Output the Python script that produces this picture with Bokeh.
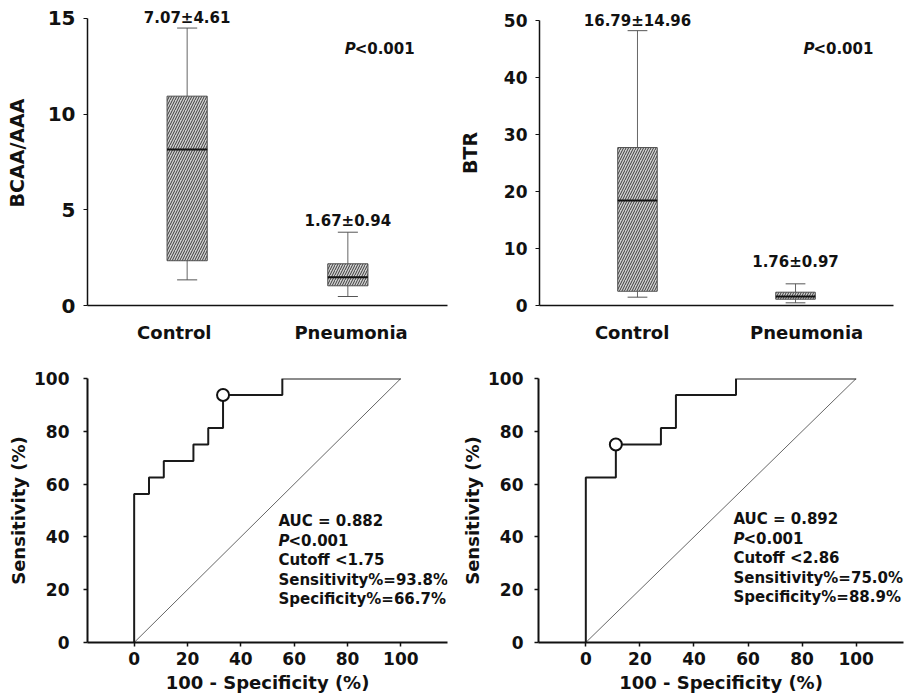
from bokeh.plotting import figure
from bokeh.models import Range1d, FixedTicker, Label, ColumnDataSource
from bokeh.layouts import column, row
from bokeh.embed import file_html
from bokeh.resources import INLINE

# ---------------- data ----------------
groups = ["Control", "Pneumonia"]

bcaa_lo = [1.34, 0.47]
bcaa_q1 = [2.34, 1.03]
bcaa_med = [8.15, 1.48]
bcaa_q3 = [10.94, 2.18]
bcaa_hi = [14.5, 3.83]
bcaa_mean_sd = ["7.07\u00b14.61", "1.67\u00b10.94"]

btr_lo = [1.46, 0.47]
btr_q1 = [2.5, 1.1]
btr_med = [18.4, 1.6]
btr_q3 = [27.7, 2.33]
btr_hi = [48.2, 3.8]
btr_mean_sd = ["16.79\u00b114.96", "1.76\u00b10.97"]

roc1_fpr = [0, 0, 5.56, 5.56, 11.11, 11.11, 22.22, 22.22, 27.78, 27.78, 33.33, 33.33, 55.56, 55.56, 100]
roc1_tpr = [0, 56.25, 56.25, 62.5, 62.5, 68.75, 68.75, 75, 75, 81.25, 81.25, 93.75, 93.75, 100, 100]
roc1_cut = (33.33, 93.75)
roc1_text = ["AUC = 0.882", "P", "Cutoff <1.75", "Sensitivity%=93.8%", "Specificity%=66.7%"]

roc2_fpr = [0, 0, 11.11, 11.11, 27.78, 27.78, 33.33, 33.33, 55.56, 55.56, 100]
roc2_tpr = [0, 62.5, 62.5, 75, 75, 81.25, 81.25, 93.75, 93.75, 100, 100]
roc2_cut = (11.11, 75.0)
roc2_text = ["AUC = 0.892", "P", "Cutoff <2.86", "Sensitivity%=75.0%", "Specificity%=88.9%"]

p_text = "<0.001"
roc_ticks = [0, 20, 40, 60, 80, 100]

FONT = "DejaVu Sans"
INK = "#111111"


def base_fig(width, height, bl, br, bt, bb, xr, yr):
    p = figure(width=width, height=height, x_range=Range1d(*xr), y_range=Range1d(*yr),
               output_backend="svg", toolbar_location=None, tools="",
               min_border_left=bl, min_border_right=br, min_border_top=bt, min_border_bottom=bb)
    p.outline_line_color = None
    p.xgrid.grid_line_color = None
    p.ygrid.grid_line_color = None
    for ax in (p.xaxis[0], p.yaxis[0]):
        ax.axis_line_color = INK
        ax.major_label_text_font = FONT
        ax.major_label_text_font_style = "bold"
        ax.major_label_text_color = INK
        ax.axis_label_text_font = FONT
        ax.axis_label_text_font_style = "bold"
        ax.axis_label_text_color = INK
        ax.minor_tick_line_color = None
        ax.major_tick_line_color = INK
        ax.major_tick_in = 0
    return p


def add_p_label(p, x, y, size):
    p.add_layout(Label(x=x, y=y, text="P", text_font=FONT, text_font_style="bold italic",
                       text_font_size=size, text_color=INK, text_baseline="middle"))
    p.add_layout(Label(x=x, y=y, x_offset=10, text=p_text, text_font=FONT, text_font_style="bold",
                       text_font_size=size, text_color=INK, text_baseline="middle"))


def box_panel(width, bl, br, bb, ymax, ytop, yticks, ylabel, tick_size,
              lo, q1, med, q3, hi, mean_sd, label_pos, msd_y, p_xy, label_standoff):
    p = base_fig(width, 355, bl, br, 0, bb, (0.38, 2.62), (0, ytop))
    xs = [i + 1 for i in range(len(groups))]
    src = ColumnDataSource(dict(x=xs, lo=lo, q1=q1, med=med, q3=q3, hi=hi,
                                cl=[x - 0.0625 for x in xs], cr=[x + 0.0625 for x in xs],
                                ml=[x - 0.125 for x in xs], mr=[x + 0.125 for x in xs]))
    # whiskers
    p.segment(x0="x", y0="q3", x1="x", y1="hi", source=src, line_color="#666666", line_width=1)
    p.segment(x0="x", y0="lo", x1="x", y1="q1", source=src, line_color="#666666", line_width=1)
    p.segment(x0="cl", y0="hi", x1="cr", y1="hi", source=src, line_color="#555555", line_width=1)
    p.segment(x0="cl", y0="lo", x1="cr", y1="lo", source=src, line_color="#555555", line_width=1)
    # boxes
    p.vbar(x="x", width=0.25, bottom="q1", top="q3", source=src, fill_color="#d2d2d2",
           line_color="#4f4f4f", line_width=1, hatch_pattern="/", hatch_color="#3a3a3a",
           hatch_scale=5, hatch_weight=1)
    p.segment(x0="ml", y0="med", x1="mr", y1="med", source=src, line_color="#111111", line_width=2)
    # axes
    p.yaxis.ticker = FixedTicker(ticks=yticks)
    p.yaxis.bounds = (0, ymax)
    p.yaxis.major_label_text_font_size = tick_size
    p.yaxis.major_tick_out = 4
    p.yaxis.major_label_standoff = 8
    p.yaxis.axis_label = ylabel
    p.yaxis.axis_label_text_font_size = "19px"
    p.yaxis.axis_label_standoff = label_standoff
    p.yaxis.axis_line_width = 1.5
    p.xaxis.axis_line_width = 1.5
    p.xaxis.ticker = FixedTicker(ticks=label_pos)
    p.xaxis.major_label_overrides = {lp: g for lp, g in zip(label_pos, groups)}
    p.xaxis.major_label_text_font_size = "18px"
    p.xaxis.major_tick_line_color = None
    p.xaxis.major_label_standoff = 10
    for x, y, t in zip(xs, msd_y, mean_sd):
        p.add_layout(Label(x=x, y=y, text=t, text_font=FONT, text_font_style="bold",
                           text_font_size="15px", text_color=INK, text_align="center",
                           text_baseline="middle"))
    add_p_label(p, p_xy[0], p_xy[1], "15px")
    return p


def roc_panel(width, bl, br, bt, bb, fpr, tpr, cut, lines, anchor, step_px,
              tick_standoff, label_standoff):
    height = 341
    frame_h = height - bt - bb
    p = base_fig(width, height, bl, br, bt, bb, (-17.5, 117.5), (0, 100))
    p.line([0, 100], [0, 100], line_color="#666666", line_width=1)
    p.line(fpr, tpr, line_color="#1a1a1a", line_width=2)
    p.scatter([cut[0]], [cut[1]], size=12, marker="circle", fill_color="white",
              line_color="#111111", line_width=2)
    for ax in (p.xaxis[0], p.yaxis[0]):
        ax.ticker = FixedTicker(ticks=roc_ticks)
        ax.major_label_text_font_size = "17px"
        ax.major_tick_out = 4
        ax.axis_line_width = 2
        ax.major_tick_line_width = 1.5
        ax.axis_label_text_font_size = "18px"
    p.yaxis.major_label_standoff = tick_standoff
    p.xaxis.major_label_standoff = 5
    p.yaxis.axis_label = "Sensitivity (%)"
    p.yaxis.axis_label_standoff = label_standoff
    p.xaxis.axis_label = "100 - Specificity (%)"
    p.xaxis.axis_label_standoff = 4
    step = step_px * 100.0 / frame_h
    for i, t in enumerate(lines):
        y = anchor[1] - i * step
        if t == "P":
            add_p_label(p, anchor[0], y, "15px")
        else:
            p.add_layout(Label(x=anchor[0], y=y, text=t, text_font=FONT, text_font_style="bold",
                               text_font_size="15px", text_color=INK, text_baseline="middle"))
    return p


p1 = box_panel(455, 87, 8, 50, 15, 15.94, [0, 5, 10, 15], "BCAA/AAA", "20px",
               bcaa_lo, bcaa_q1, bcaa_med, bcaa_q3, bcaa_hi, bcaa_mean_sd,
               [0.92, 2.02], [15.05, 4.44], (1.98, 13.38), 17)
p2 = box_panel(457, 79, 19, 48, 50, 53.49, [0, 10, 20, 30, 40, 50], "BTR", "17px",
               btr_lo, btr_q1, btr_med, btr_q3, btr_hi, btr_mean_sd,
               [0.966, 2.07], [49.9, 7.67], (2.05, 44.95), 20)
p3 = roc_panel(455, 87, 8, 23, 54, roc1_fpr, roc1_tpr, roc1_cut, roc1_text,
               (54.1, 45.9), 19.4, 14, 2)
p4 = roc_panel(457, 83, 9, 21, 54, roc2_fpr, roc2_tpr, roc2_cut, roc2_text,
               (54.6, 46.7), 19.6, 11, 2)

layout = column(row(p1, p2), row(p3, p4))
open("out.html", "w").write(file_html(layout, INLINE))
